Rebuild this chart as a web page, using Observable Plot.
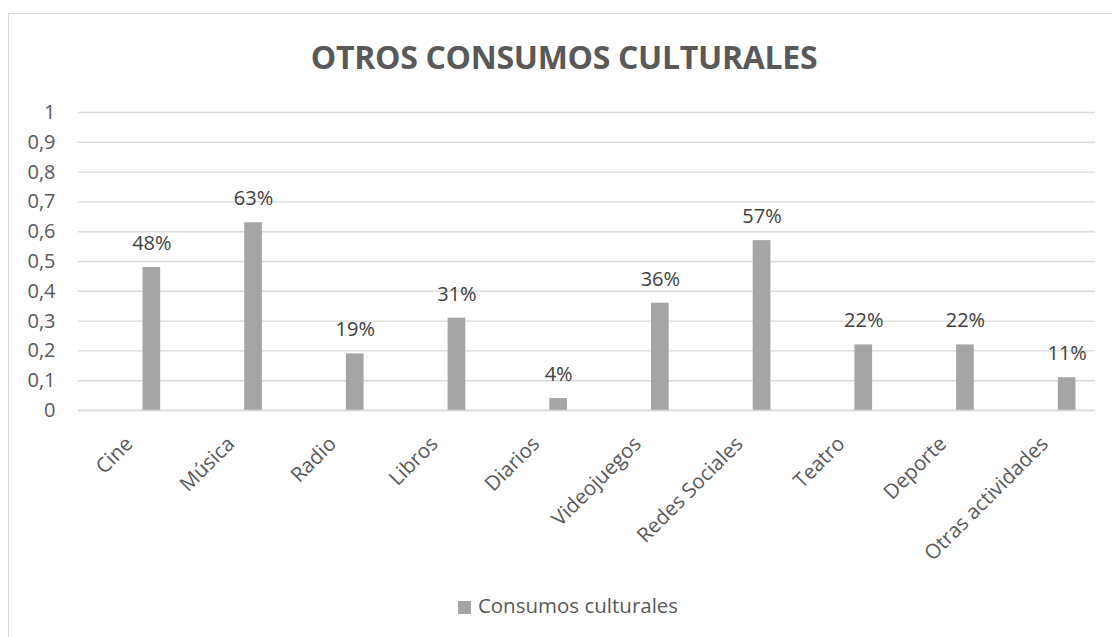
<!DOCTYPE html>
<html>
<head>
<meta charset="utf-8">
<script src="https://cdn.jsdelivr.net/npm/d3@7"></script>
<script src="https://cdn.jsdelivr.net/npm/@observablehq/plot@0.6"></script>
<style>
  html, body { margin: 0; padding: 0; background: #fff; }
  body { width: 1112px; height: 637px; position: relative; overflow: hidden; font-family: "Open Sans", sans-serif; }
  #frame { position: absolute; left: 8px; top: 13px; width: 1200px; height: 700px; border: 1.5px solid #d9d9d9; box-sizing: border-box; }
  #chart { position: absolute; left: 0; top: 0; }
  #title { position: absolute; left: 8px; width: 1112px; top: 37px; text-align: center; font-weight: 700; font-size: 32px; color: #595959; line-height: 40px; letter-spacing: -0.3px; }
  #legend { position: absolute; left: 12px; width: 1112px; top: 591px; text-align: center; font-size: 20.5px; color: #595959; line-height: 28px; }
  #legend .sw { display: inline-block; width: 13px; height: 13px; background: #a5a5a5; margin-right: 7px; vertical-align: -1px; }
</style>
</head>
<body>
<div id="frame"></div>
<div id="chart"></div>
<div id="title">OTROS CONSUMOS CULTURALES</div>
<div id="legend"><span class="sw"></span>Consumos culturales</div>
<script>
const categories = ["Cine", "Música", "Radio", "Libros", "Diarios", "Videojuegos", "Redes Sociales", "Teatro", "Deporte", "Otras actividades"];
const values = [0.48, 0.63, 0.19, 0.31, 0.04, 0.36, 0.57, 0.22, 0.22, 0.11];
const valueLabels = ["48%", "63%", "19%", "31%", "4%", "36%", "57%", "22%", "22%", "11%"];
const yTicks = [0, 0.1, 0.2, 0.3, 0.4, 0.5, 0.6, 0.7, 0.8, 0.9, 1];
const yTickLabels = ["0", "0,1", "0,2", "0,3", "0,4", "0,5", "0,6", "0,7", "0,8", "0,9", "1"];
const seriesName = "Consumos culturales";

const data = categories.map((c, i) => ({category: c, value: values[i], label: valueLabels[i]}));

const plot = Plot.plot({
  width: 1112,
  height: 637,
  marginLeft: 78,
  marginRight: 17,
  marginTop: 112,
  marginBottom: 227,
  style: {fontFamily: "'Open Sans', sans-serif", background: "transparent", overflow: "visible"},
  x: {domain: categories, padding: 0, round: false, label: null},
  y: {domain: [0, 1], label: null},
  marks: [
    Plot.gridY(yTicks, {stroke: "#d9d9d9", strokeOpacity: 1, strokeWidth: 1.4}),
    Plot.barY(data, {x: "category", y: "value", fill: "#a5a5a5", insetLeft: 64.5, insetRight: 19.5}),
    Plot.ruleY([0], {stroke: "#d9d9d9", strokeWidth: 1.6}),
    Plot.text(data, {x: "category", y: "value", text: "label", dx: 22.5, dy: -24, fontSize: 20, fill: "#404040"}),
    Plot.axisY(yTicks, {tickSize: 0, tickPadding: 23, fontSize: 20, color: "#595959", tickFormat: (d) => yTickLabels[yTicks.indexOf(d)], label: null}),
    Plot.axisX({tickSize: 0, tickPadding: 30, tickRotate: -45, fontSize: 20.5, color: "#595959", label: null})
  ]
});
document.getElementById("chart").appendChild(plot);
</script>
</body>
</html>
